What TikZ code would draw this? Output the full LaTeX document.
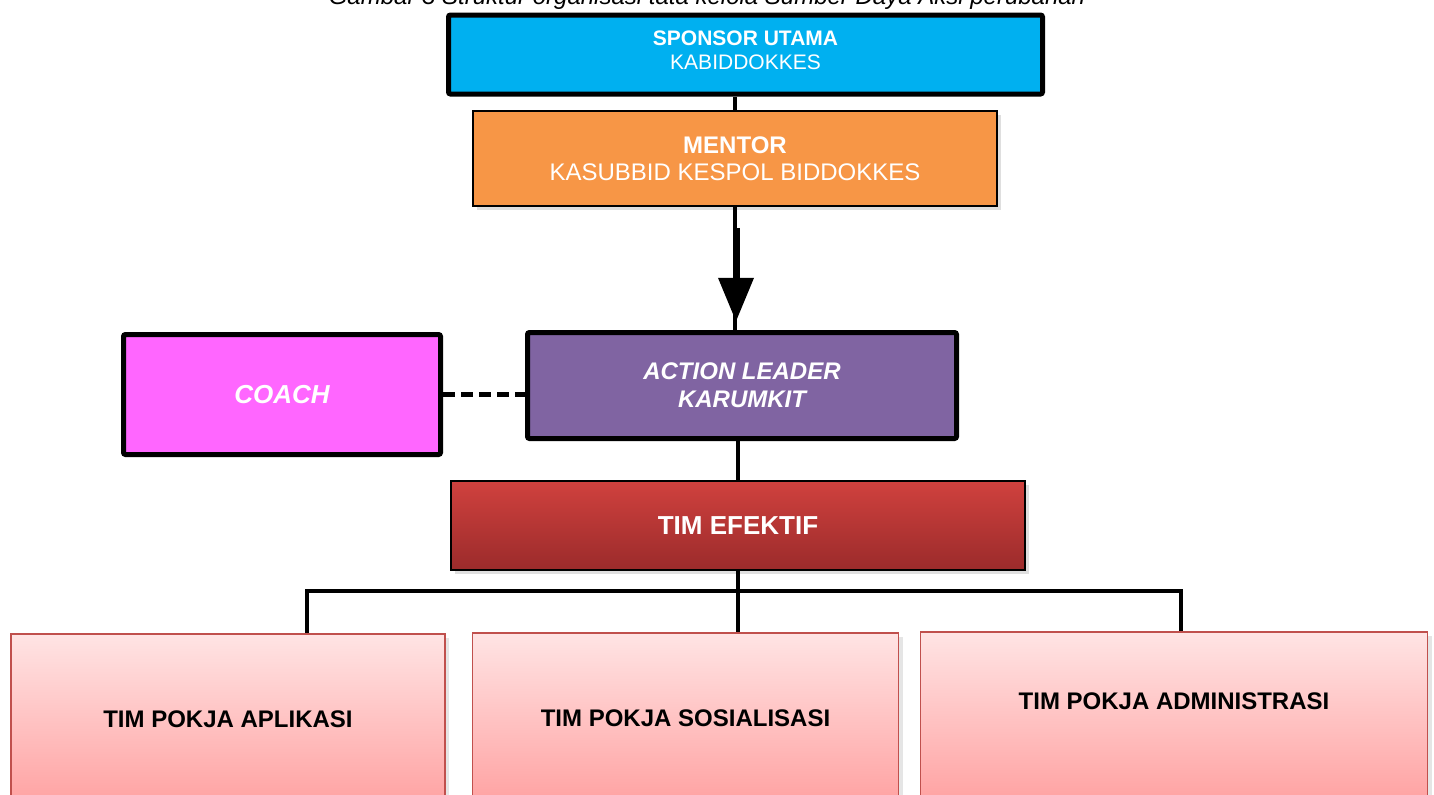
\documentclass[tikz,border=0pt]{standalone}
\usepackage{fontspec}
\setmainfont{Liberation Sans}
\usetikzlibrary{arrows.meta,shadows,calc}
\definecolor{org_blue}{RGB}{0,176,240}
\definecolor{org_orange}{RGB}{247,150,70}
\definecolor{org_purple}{RGB}{128,100,162}
\definecolor{org_magenta}{RGB}{255,102,255}
\definecolor{org_redtop}{RGB}{208,65,62}
\definecolor{org_redbot}{RGB}{155,43,43}
\definecolor{org_rosetop}{RGB}{255,228,228}
\definecolor{org_rosebot}{RGB}{255,162,162}
\definecolor{org_roseline}{RGB}{192,80,77}
\tikzstyle{thickbox}=[rectangle,rounded corners=1pt,draw=black,line width=2.5pt,
  text=white,align=center,inner sep=0pt]
\tikzstyle{shadebox}=[rectangle,draw=black,line width=0.8pt,text=white,align=center,
  inner sep=0pt,drop shadow={opacity=0.25,shadow xshift=2pt,shadow yshift=-2pt}]
\tikzstyle{pokja}=[rectangle,draw=org_roseline,line width=0.8pt,top color=org_rosetop,
  bottom color=org_rosebot,align=center,inner sep=0pt,minimum height=85pt,
  font=\fontsize{12}{14}\selectfont\bfseries,
  drop shadow={opacity=0.2,shadow xshift=2pt,shadow yshift=-2pt}]
\tikzstyle{conn}=[line width=2pt,draw=black]

\begin{document}
\begin{tikzpicture}[x=0.5pt, y=-0.5pt]
    \fill[white] (0,0) rectangle (1434,794);
    \useasboundingbox (0,0) rectangle (1434,794);
    \node [anchor=base, font=\fontsize{12}{14}\selectfont\itshape] (caption) at (707,4)
      {Gambar 3 Struktur organisasi tata kelola Sumber Daya Aksi perubahan};
    \node [style=thickbox, fill=org_blue, minimum width=297pt, minimum height=39.5pt,
      font=\fontsize{10.5}{12}\selectfont, text depth=4pt] (sponsor) at (745.5, 54.5)
      {\textbf{SPONSOR UTAMA}\\KABIDDOKKES};
    \node [style=shadebox, fill=org_orange, minimum width=262pt, minimum height=47.5pt,
      font=\fontsize{12}{13.5}\selectfont] (mentor) at (735, 158.5)
      {\textbf{MENTOR}\\KASUBBID KESPOL BIDDOKKES};
    \node [style=thickbox, fill=org_purple, minimum width=214.5pt, minimum height=53pt,
      font=\fontsize{12}{14}\selectfont\bfseries\itshape] (action) at (742, 385.5)
      {ACTION LEADER\\KARUMKIT};
    \node [style=thickbox, fill=org_magenta, minimum width=158.5pt, minimum height=60pt,
      font=\fontsize{13}{15}\selectfont\bfseries\itshape] (coach) at (282, 394.5) {COACH};
    \node [style=shadebox, top color=org_redtop, bottom color=org_redbot, minimum width=287pt,
      minimum height=44.5pt, font=\fontsize{13}{15}\selectfont\bfseries] (efektif) at (738, 525.5)
      {TIM EFEKTIF};
    \node [style=pokja, minimum width=217pt] (aplikasi) at (228, 719) {TIM POKJA APLIKASI};
    \node [style=pokja, minimum width=213pt] (sosialisasi) at (685.5, 718) {TIM POKJA SOSIALISASI};
    \node [style=pokja, minimum width=253.5pt, text depth=16pt] (administrasi) at (1174, 717)
      {TIM POKJA ADMINISTRASI};
    \coordinate (busL) at (307, 591);
    \coordinate (busR) at (1181, 591);
    \draw [style=conn] (mentor.north) to (mentor.north |- sponsor.south);
    \draw [style=conn] (mentor.south) to (mentor.south |- action.north);
    \draw [line width=3.5pt, -{Triangle[length=22pt,width=17pt]}]
      ($(mentor.south)+(1,21)$) to ($(mentor.south)+(1,115)$);
    \draw [style=conn, line width=2.5pt, dash pattern=on 6pt off 3pt]
      (coach.east) to (coach.east -| action.west);
    \draw [style=conn] (action.south -| efektif.south) to (efektif.north);
    \draw [style=conn] (efektif.south) to (efektif.south |- sosialisasi.north);
    \draw [style=conn] (busL |- aplikasi.north) -- (busL) -- (busR) -- (busR |- administrasi.north);
\end{tikzpicture}
\end{document}
